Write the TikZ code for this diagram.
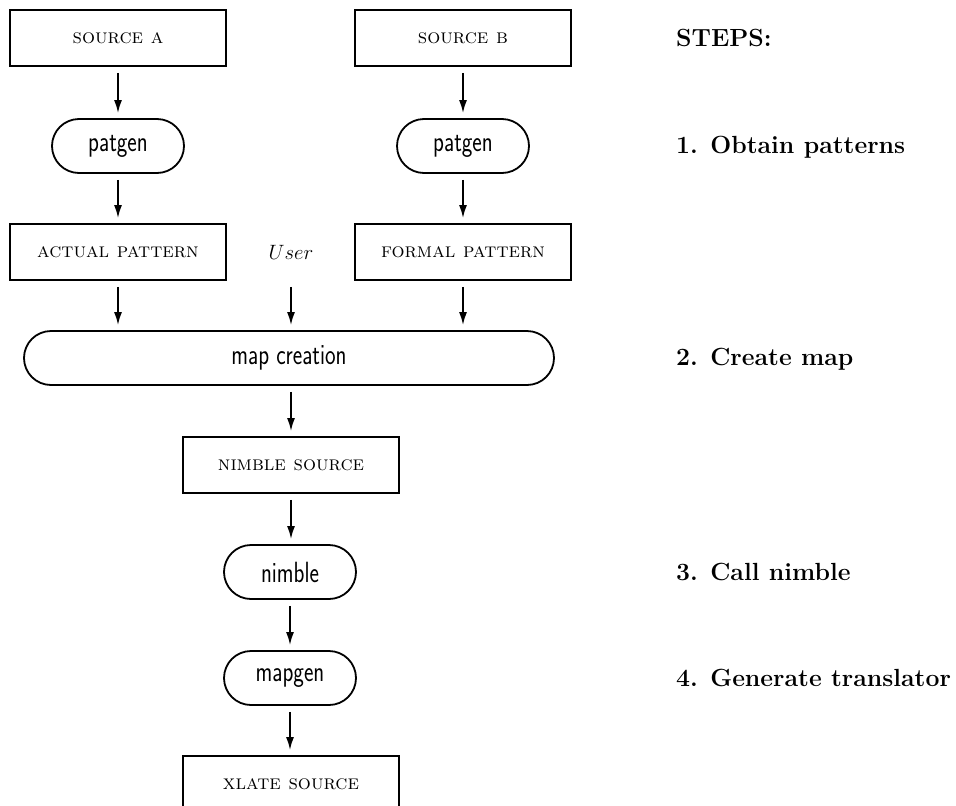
\documentclass[tikz,border=0pt]{standalone}
\usepackage{fontspec}
\usepackage{graphicx}
\usetikzlibrary{arrows.meta}
\tikzset{
  srcbox/.style={draw, line width=1.8pt, rectangle, inner sep=0pt, minimum width=216pt, minimum height=56pt,
    font=\fontsize{20.5}{24}\selectfont\scshape\addfontfeature{LetterSpace=4}},
  procbox/.style={draw, line width=1.8pt, rectangle, rounded corners=27pt, inner sep=0pt, minimum width=132pt, minimum height=54pt},
  flow/.style={line width=1.8pt, -{Latex[length=13pt,width=8pt]}, shorten <=6pt, shorten >=5pt},
  steptext/.style={anchor=base west, inner sep=0pt, font=\fontsize{24.8}{29}\selectfont\bfseries}
}
\newcommand{\proclabel}[1]{\scalebox{1}[1.3]{\fontsize{22.5}{27}\selectfont\sffamily\addfontfeature{LetterSpace=7}#1}}
\begin{document}
\begin{tikzpicture}[x=1pt,y=-1pt]
\useasboundingbox (0,0) rectangle (956,806);
\clip (0,0) rectangle (956,806);
\node[srcbox] (srcA) at (118,38) {source a};
\node[srcbox] (srcB) at (463,38) {source b};
\node[procbox] (patA) at (118,146) {\proclabel{patgen}};
\node[procbox] (patB) at (463,146) {\proclabel{patgen}};
\node[srcbox] (actual) at (118,252) {actual pattern};
\node[srcbox, draw=none, minimum width=60pt] (user) at (291,252) {\fontsize{21.5}{25}\selectfont$User$};
\node[srcbox] (formal) at (463,252) {formal pattern};
\node[procbox, minimum width=530pt] (map) at (289,358) {\proclabel{map creation}};
\node[srcbox] (nsrc) at (291,465) {nimble source};
\node[procbox] (nimble) at (290,572) {\proclabel{nimble}};
\node[procbox] (mapgen) at (290,678) {\proclabel{mapgen}};
\node[srcbox] (xsrc) at (291,784) {xlate source};

\draw[flow] (srcA) -- (patA);
\draw[flow] (srcB) -- (patB);
\draw[flow] (patA) -- (actual);
\draw[flow] (patB) -- (formal);
\draw[flow] (actual) -- (actual |- map.north);
\draw[flow] (user) -- (user |- map.north);
\draw[flow] (formal) -- (formal |- map.north);
\draw[flow] (map.south -| nsrc) -- (nsrc);
\draw[flow] (nsrc) -- (nsrc |- nimble.north);
\draw[flow] (nimble) -- (nimble |- mapgen.north);
\draw[flow] (mapgen) -- (mapgen |- xsrc.north);

\node[steptext] (s0) at (676,46) {STEPS:};
\node[steptext] (s1) at (676,153) {1. Obtain patterns};
\node[steptext] (s2) at (676,365) {2. Create map};
\node[steptext] (s3) at (676,580) {3. Call nimble};
\node[steptext] (s4) at (676,686) {4. Generate translator};
\end{tikzpicture}
\end{document}
